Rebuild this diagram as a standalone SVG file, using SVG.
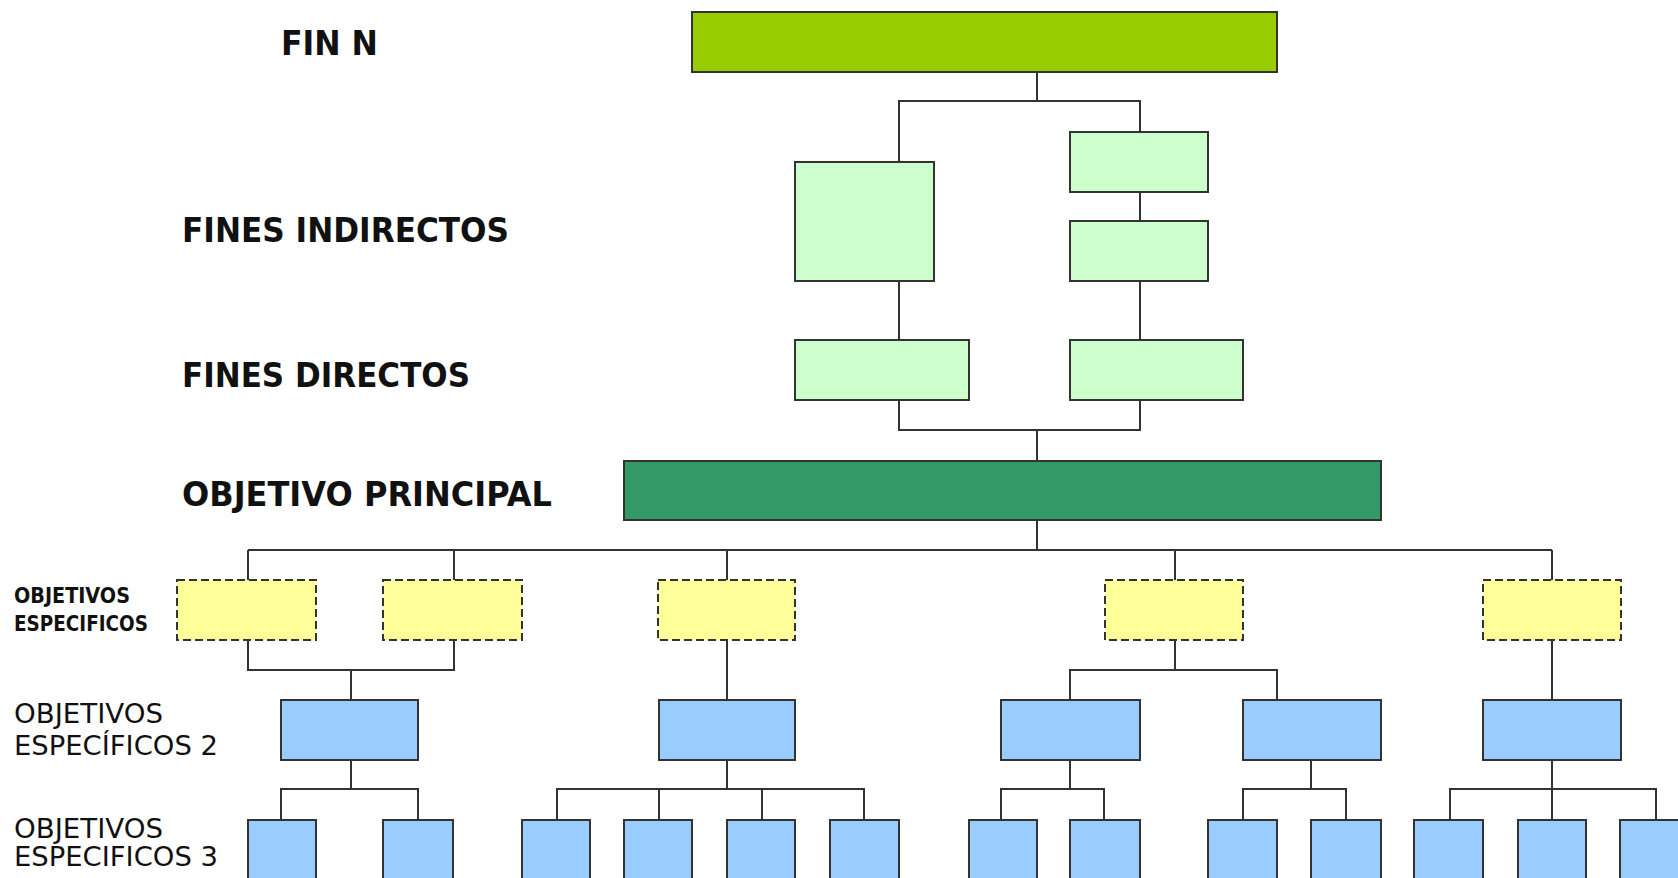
<svg xmlns="http://www.w3.org/2000/svg" width="1678" height="878" viewBox="0 0 1678 878">
<style>
  .box { stroke: #333; stroke-width: 2; }
  .lime { fill: #99CC00; }
  .dark { fill: #339966; }
  .light { fill: #CCFFCC; }
  .yellow { fill: #FFFF99; stroke-dasharray: 8 4; }
  .blue { fill: #99CCFF; }
  .conn line, .conn polyline { stroke: #333; stroke-width: 2; fill: none; }
  .big { font-family: "DejaVu Sans", "Liberation Sans", sans-serif; font-weight: bold; font-size: 33px; fill: #111; }
  .small { font-family: "DejaVu Sans", "Liberation Sans", sans-serif; font-size: 22px; font-weight: bold; fill: #111; }
  .mid { font-family: "DejaVu Sans", "Liberation Sans", sans-serif; font-size: 27px; fill: #111; }
</style>
<rect width="1678" height="878" fill="#ffffff"/>

<g id="labels">
  <text class="big" x="281" y="55" textLength="97" lengthAdjust="spacingAndGlyphs">FIN N</text>
  <text class="big" x="182" y="242" textLength="327" lengthAdjust="spacingAndGlyphs">FINES INDIRECTOS</text>
  <text class="big" x="182" y="387" textLength="288" lengthAdjust="spacingAndGlyphs">FINES DIRECTOS</text>
  <text class="big" x="182" y="506" textLength="370" lengthAdjust="spacingAndGlyphs">OBJETIVO PRINCIPAL</text>
  <text class="small" x="14" y="603" textLength="116" lengthAdjust="spacingAndGlyphs">OBJETIVOS</text>
  <text class="small" x="14" y="631" textLength="134" lengthAdjust="spacingAndGlyphs">ESPECIFICOS</text>
  <text class="mid" x="14" y="723" textLength="149" lengthAdjust="spacingAndGlyphs">OBJETIVOS</text>
  <text class="mid" x="14" y="755" textLength="204" lengthAdjust="spacingAndGlyphs">ESPECÍFICOS 2</text>
  <text class="mid" x="14" y="838" textLength="149" lengthAdjust="spacingAndGlyphs">OBJETIVOS</text>
  <text class="mid" x="14" y="866" textLength="204" lengthAdjust="spacingAndGlyphs">ESPECIFICOS 3</text>
</g>

<g id="connectors" class="conn">
  <!-- Fin N to fines indirectos -->
  <line x1="1037" y1="72" x2="1037" y2="101"/>
  <polyline points="899,162 899,101 1140,101 1140,132"/>
  <line x1="1140" y1="192" x2="1140" y2="221"/>
  <line x1="899" y1="281" x2="899" y2="340"/>
  <line x1="1140" y1="281" x2="1140" y2="340"/>
  <polyline points="899,400 899,430 1140,430 1140,400"/>
  <line x1="1037" y1="430" x2="1037" y2="461"/>
  <!-- Objetivo principal to especificos -->
  <line x1="1037" y1="520" x2="1037" y2="550"/>
  <line x1="248" y1="550" x2="1552" y2="550"/>
  <line x1="248" y1="550" x2="248" y2="580"/>
  <line x1="454" y1="550" x2="454" y2="580"/>
  <line x1="727" y1="550" x2="727" y2="580"/>
  <line x1="1175" y1="550" x2="1175" y2="580"/>
  <line x1="1552" y1="550" x2="1552" y2="580"/>
  <!-- especificos to especificos 2 -->
  <polyline points="248,640 248,670 454,670 454,640"/>
  <line x1="351" y1="670" x2="351" y2="700"/>
  <line x1="727" y1="640" x2="727" y2="700"/>
  <line x1="1175" y1="640" x2="1175" y2="670"/>
  <polyline points="1070,700 1070,670 1277,670 1277,700"/>
  <line x1="1552" y1="640" x2="1552" y2="700"/>
  <!-- especificos 2 to especificos 3 -->
  <line x1="351" y1="760" x2="351" y2="789"/>
  <polyline points="281,820 281,789 418,789 418,820"/>
  <line x1="727" y1="760" x2="727" y2="789"/>
  <polyline points="557,820 557,789 864,789 864,820"/>
  <line x1="659" y1="789" x2="659" y2="820"/>
  <line x1="762" y1="789" x2="762" y2="820"/>
  <line x1="1070" y1="760" x2="1070" y2="789"/>
  <polyline points="1001,820 1001,789 1104,789 1104,820"/>
  <line x1="1311" y1="760" x2="1311" y2="789"/>
  <polyline points="1243,820 1243,789 1346,789 1346,820"/>
  <line x1="1552" y1="760" x2="1552" y2="820"/>
  <polyline points="1450,820 1450,789 1656,789 1656,820"/>
</g>

<g id="fin-n"><rect class="box lime" x="692" y="12" width="585" height="60"/></g>
<g id="fin-indirecto-1"><rect class="box light" x="795" y="162" width="139" height="119"/></g>
<g id="fin-indirecto-2"><rect class="box light" x="1070" y="132" width="138" height="60"/></g>
<g id="fin-indirecto-3"><rect class="box light" x="1070" y="221" width="138" height="60"/></g>
<g id="fin-directo-1"><rect class="box light" x="795" y="340" width="174" height="60"/></g>
<g id="fin-directo-2"><rect class="box light" x="1070" y="340" width="173" height="60"/></g>
<g id="objetivo-principal"><rect class="box dark" x="624" y="461" width="757" height="59"/></g>

<g id="esp-1"><rect class="box yellow" x="177" y="580" width="139" height="60"/></g>
<g id="esp-2"><rect class="box yellow" x="383" y="580" width="139" height="60"/></g>
<g id="esp-3"><rect class="box yellow" x="658" y="580" width="137" height="60"/></g>
<g id="esp-4"><rect class="box yellow" x="1105" y="580" width="138" height="60"/></g>
<g id="esp-5"><rect class="box yellow" x="1483" y="580" width="138" height="60"/></g>

<g id="esp2-1"><rect class="box blue" x="281" y="700" width="137" height="60"/></g>
<g id="esp2-2"><rect class="box blue" x="659" y="700" width="136" height="60"/></g>
<g id="esp2-3"><rect class="box blue" x="1001" y="700" width="139" height="60"/></g>
<g id="esp2-4"><rect class="box blue" x="1243" y="700" width="138" height="60"/></g>
<g id="esp2-5"><rect class="box blue" x="1483" y="700" width="138" height="60"/></g>

<g id="esp3-1"><rect class="box blue" x="248" y="820" width="68" height="80"/></g>
<g id="esp3-2"><rect class="box blue" x="383" y="820" width="70" height="80"/></g>
<g id="esp3-3"><rect class="box blue" x="522" y="820" width="68" height="80"/></g>
<g id="esp3-4"><rect class="box blue" x="624" y="820" width="68" height="80"/></g>
<g id="esp3-5"><rect class="box blue" x="727" y="820" width="68" height="80"/></g>
<g id="esp3-6"><rect class="box blue" x="830" y="820" width="69" height="80"/></g>
<g id="esp3-7"><rect class="box blue" x="969" y="820" width="68" height="80"/></g>
<g id="esp3-8"><rect class="box blue" x="1070" y="820" width="70" height="80"/></g>
<g id="esp3-9"><rect class="box blue" x="1208" y="820" width="69" height="80"/></g>
<g id="esp3-10"><rect class="box blue" x="1311" y="820" width="70" height="80"/></g>
<g id="esp3-11"><rect class="box blue" x="1414" y="820" width="69" height="80"/></g>
<g id="esp3-12"><rect class="box blue" x="1518" y="820" width="68" height="80"/></g>
<g id="esp3-13"><rect class="box blue" x="1620" y="820" width="70" height="80"/></g>
</svg>
